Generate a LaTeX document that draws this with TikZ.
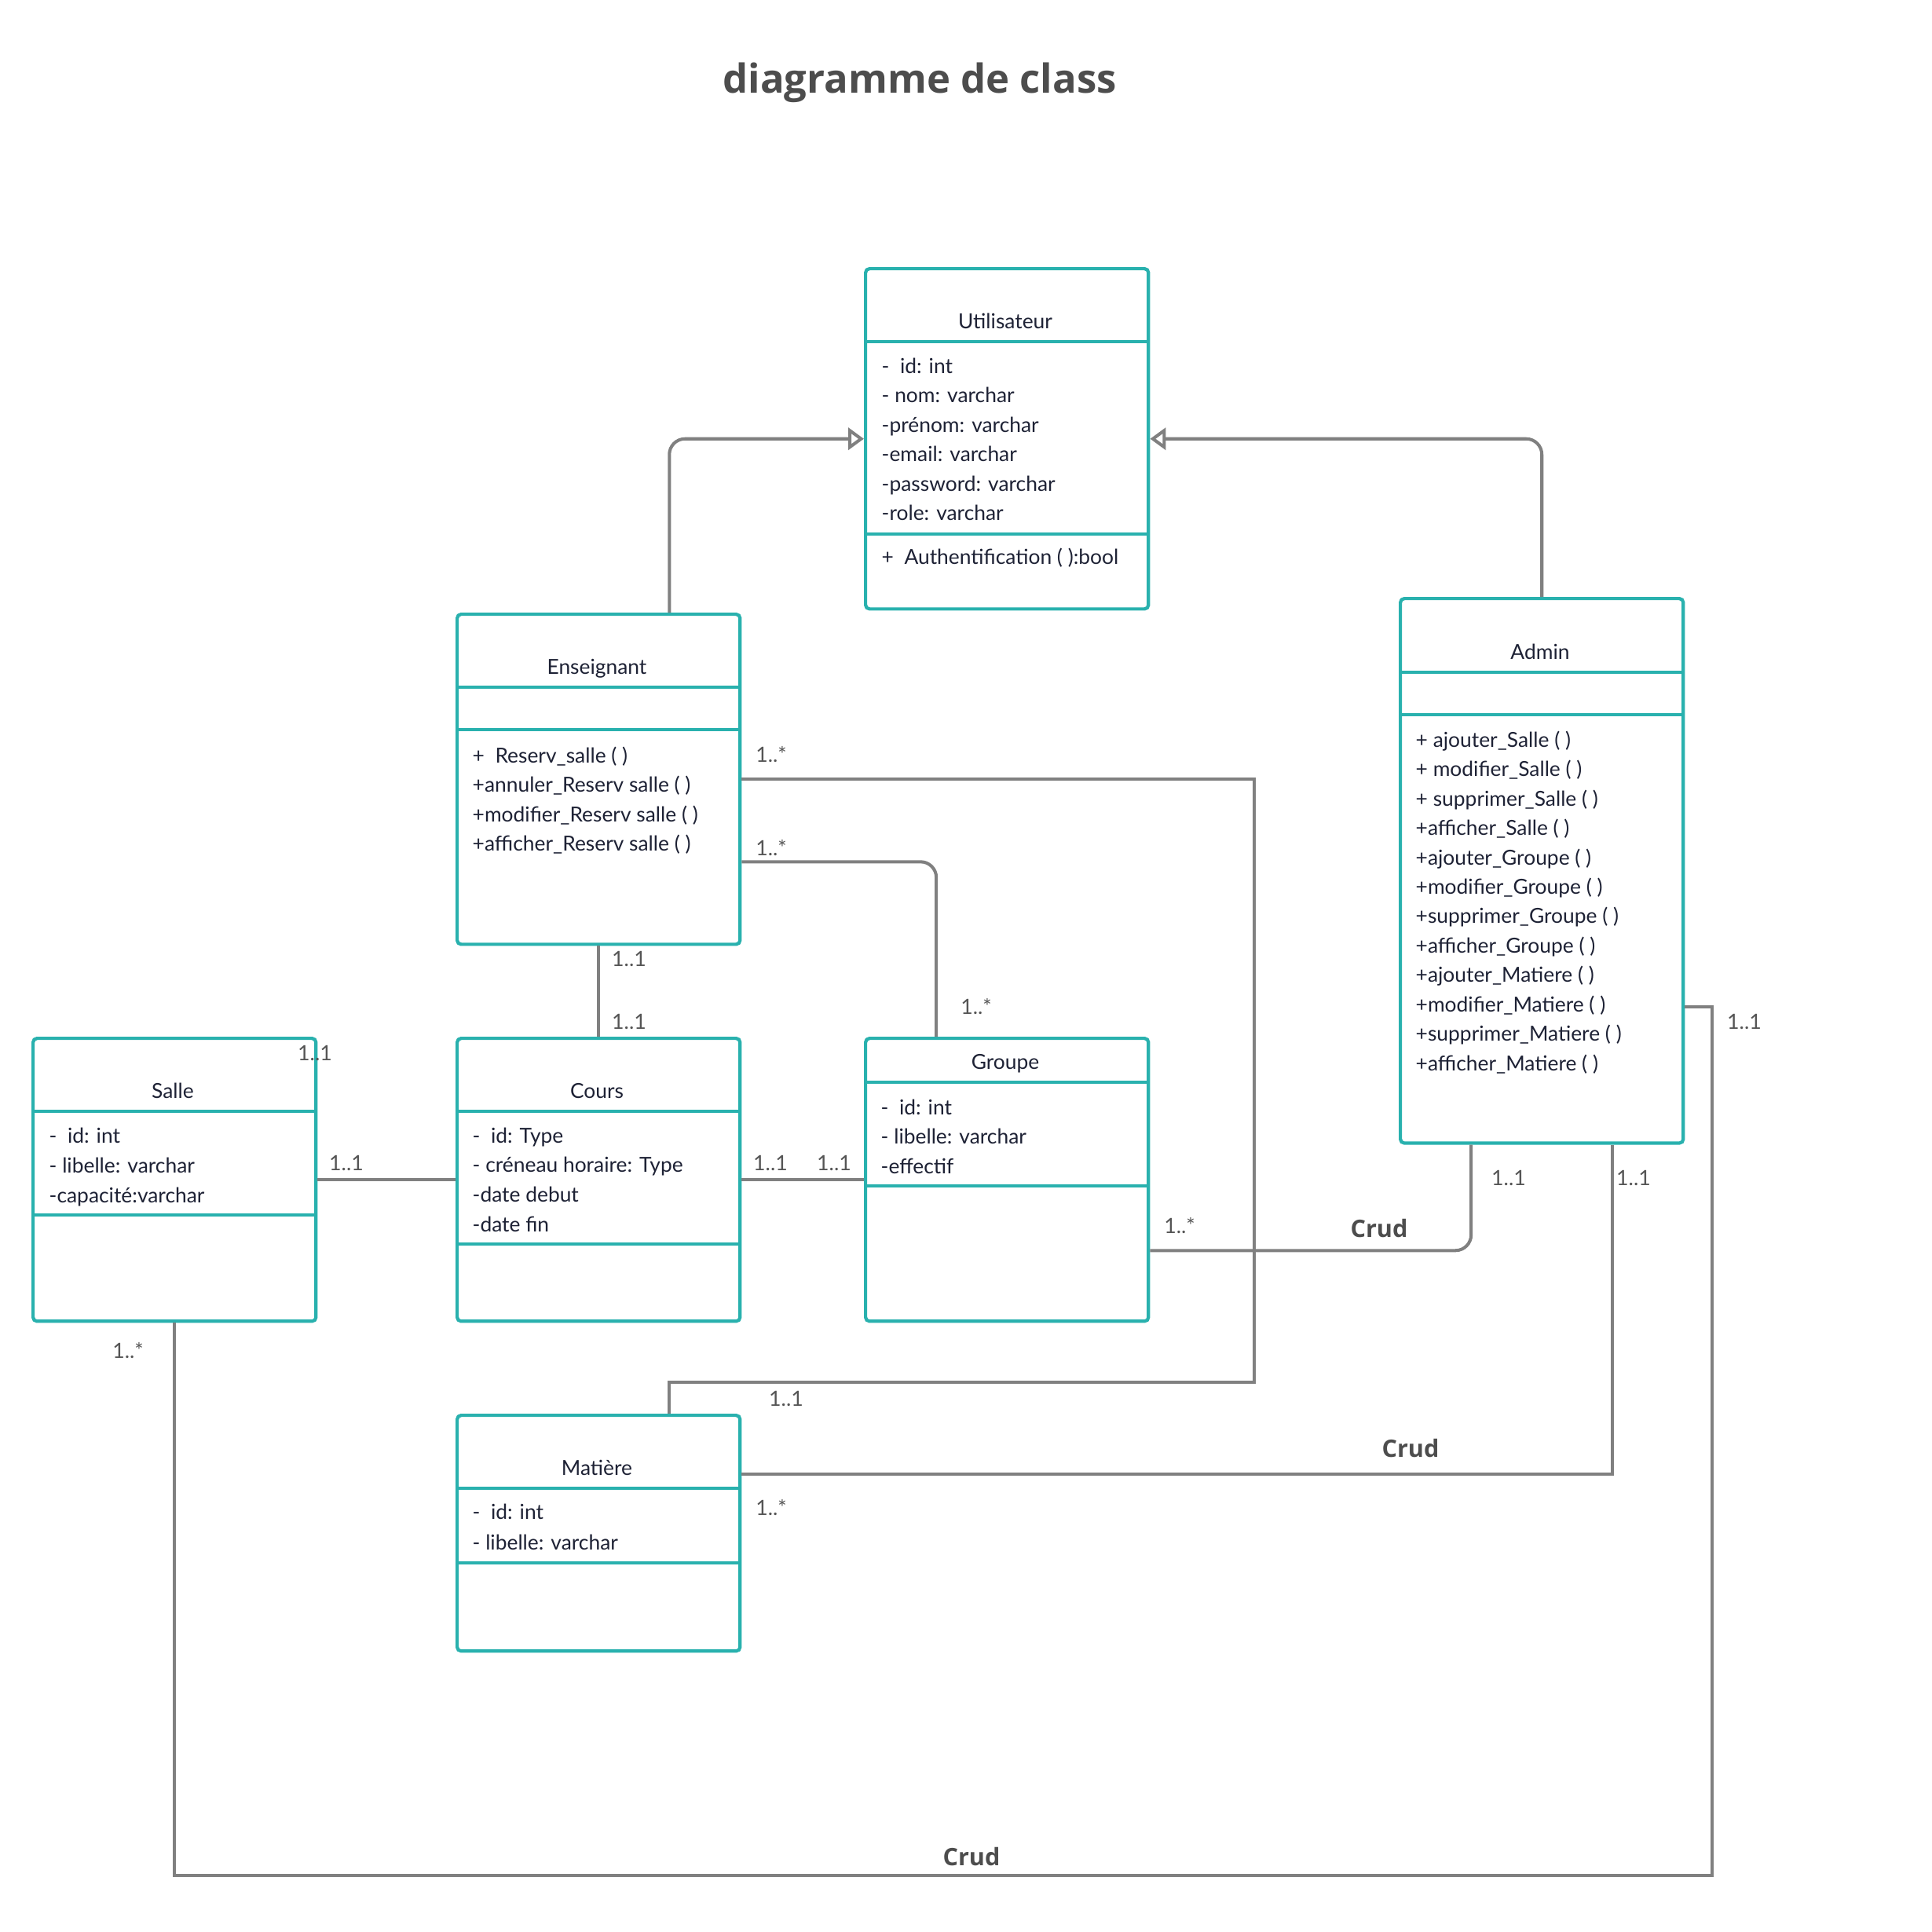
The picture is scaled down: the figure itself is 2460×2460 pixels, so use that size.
\documentclass[tikz,border=0pt]{standalone}
\usepackage{fontspec}
\setmainfont{Lato}
\newfontfamily\titlefont{Open Sans}
\usetikzlibrary{arrows.meta}
\definecolor{tealb}{HTML}{29B1AE}
\definecolor{connc}{HTML}{808080}
\definecolor{labc}{HTML}{555555}
\definecolor{ink}{HTML}{1E2235}
\definecolor{titc}{HTML}{4D4D4D}
\begin{document}
\begin{tikzpicture}[x=0.01cm,y=-0.01cm,
  cls/.style={draw=tealb, line width=1.2pt, fill=white, rounded corners=0.05cm, inner sep=0, minimum width=3.6cm},
  div/.style={draw=tealb, line width=1.2pt},
  conn/.style={draw=connc, line width=1.15pt},
  gen/.style={conn, rounded corners=0.2cm, -{Triangle[open, length=0.2cm, width=0.28cm, fill=white]}},
  txt/.style={anchor=west, inner sep=0, text height=0.64em, text depth=0pt, font=\fontsize{7.5}{9.5}\selectfont, text=ink},
  nm/.style={txt, anchor=center},
  mult/.style={anchor=center, inner sep=0, text height=0.64em, text depth=0pt, font=\fontsize{7.6}{9.5}\selectfont, text=labc},
  crud/.style={anchor=center, inner sep=0, text height=0.72em, text depth=0pt, font=\titlefont\bfseries\fontsize{8.7}{11}\selectfont, text=titc}
]
\useasboundingbox (0,0) rectangle (2460,2460);
\fill[white] (0,0) rectangle (2460,2460);

% title
\node[anchor=base, inner sep=0, font=\titlefont\bfseries\fontsize{14.45}{18}\selectfont, text=titc] (title) at (1171,118) {diagramme de class};

% class boxes
\node[cls, minimum height=4.33cm, anchor=north west] (util) at (1100,340) {};
\node[cls, minimum height=4.2cm, anchor=north west] (ens) at (580,780) {};
\node[cls, minimum height=6.93cm, anchor=north west] (admin) at (1781,760) {};
\node[cls, minimum height=3.6cm, anchor=north west] (salle) at (40,1320) {};
\node[cls, minimum height=3.6cm, anchor=north west] (cours) at (580,1320) {};
\node[cls, minimum height=3.6cm, anchor=north west] (grp) at (1100,1320) {};
\node[cls, minimum height=3.0cm, anchor=north west] (mat) at (580,1800) {};

% dividers
\draw[div] (util.west |- 0,435) -- (util.east |- 0,435);
\draw[div] (util.west |- 0,680) -- (util.east |- 0,680);
\draw[div] (ens.west |- 0,875) -- (ens.east |- 0,875);
\draw[div] (ens.west |- 0,929) -- (ens.east |- 0,929);
\draw[div] (admin.west |- 0,856) -- (admin.east |- 0,856);
\draw[div] (admin.west |- 0,910) -- (admin.east |- 0,910);
\draw[div] (salle.west |- 0,1415) -- (salle.east |- 0,1415);
\draw[div] (salle.west |- 0,1547) -- (salle.east |- 0,1547);
\draw[div] (cours.west |- 0,1415) -- (cours.east |- 0,1415);
\draw[div] (cours.west |- 0,1584) -- (cours.east |- 0,1584);
\draw[div] (grp.west |- 0,1378) -- (grp.east |- 0,1378);
\draw[div] (grp.west |- 0,1510) -- (grp.east |- 0,1510);
\draw[div] (mat.west |- 0,1895) -- (mat.east |- 0,1895);
\draw[div] (mat.west |- 0,1990) -- (mat.east |- 0,1990);

% class names
\node[nm] (utilname) at (1280,407) {Utilisateur};
\node[nm] (ensname) at (760,847) {Enseignant};
\node[nm] (adminname) at (1961,828) {Admin};
\node[nm] (sallename) at (220,1387) {Salle};
\node[nm] (coursname) at (760,1387) {Cours};
\node[nm] (grpname) at (1280,1350) {Groupe};
\node[nm] (matname) at (760,1867) {Matière};

% Utilisateur
\foreach \t [count=\i] in {{-\ \ id: int},{- nom: varchar},{-prénom: varchar},{-email: varchar},{-password: varchar},{-role: varchar}}
  \node[txt] (ua\i) at (1122,{464+37.5*(\i-1)}) {\t};
\node[txt] (um1) at (1122,707) {+\ \ Authentification ( ):bool};

% Enseignant
\foreach \t [count=\i] in {{+\ \ Reserv\_salle ( )},{+annuler\_Reserv salle ( )},{+modifier\_Reserv salle ( )},{+afficher\_Reserv salle ( )}}
  \node[txt] (em\i) at (601,{960+37.5*(\i-1)}) {\t};

% Admin
\foreach \t [count=\i] in {{+ ajouter\_Salle ( )},{+ modifier\_Salle ( )},{+ supprimer\_Salle ( )},{+afficher\_Salle ( )},{+ajouter\_Groupe ( )},{+modifier\_Groupe ( )},{+supprimer\_Groupe ( )},{+afficher\_Groupe ( )},{+ajouter\_Matiere ( )},{+modifier\_Matiere ( )},{+supprimer\_Matiere ( )},{+afficher\_Matiere ( )}}
  \node[txt] (am\i) at (1802,{940+37.45*(\i-1)}) {\t};

% Salle
\foreach \t [count=\i] in {{-\ \ id: int},{- libelle: varchar},{-capacité:varchar}}
  \node[txt] (sa\i) at (62,{1444+38*(\i-1)}) {\t};

% Cours
\foreach \t [count=\i] in {{-\ \ id: Type},{- créneau horaire: Type},{-date debut},{-date fin}}
  \node[txt] (ca\i) at (601,{1444+37.7*(\i-1)}) {\t};

% Groupe
\foreach \t [count=\i] in {{-\ \ id: int},{- libelle: varchar},{-effectif}}
  \node[txt] (ga\i) at (1121,{1408+37.5*(\i-1)}) {\t};

% Matiere
\foreach \t [count=\i] in {{-\ \ id: int},{- libelle: varchar}}
  \node[txt] (ma\i) at (601,{1923+39*(\i-1)}) {\t};

% connectors
\draw[gen] ([xshift=0.9cm]ens.north) |- (util.west);
\draw[gen] (admin.north) |- (util.east);
\draw[conn] (ens.east) -| (1597,1760) -| ([xshift=0.9cm]mat.north);
\draw[conn, rounded corners=0.2cm] ([yshift=-1.05cm]ens.east) -| ([xshift=-0.9cm]grp.north);
\draw[conn] (ens.south) -- (cours.north);
\draw[conn] (salle.east) -- (cours.west);
\draw[conn] (cours.east) -- (grp.west);
\draw[conn, rounded corners=0.2cm] ([yshift=-0.9cm]grp.east) -| ([xshift=-0.9cm]admin.south);
\draw[conn] ([yshift=0.75cm]mat.east) -| ([xshift=0.9cm]admin.south);
\draw[conn] (salle.south) |- (2180,2388) |- ([yshift=-1.735cm]admin.east);

% multiplicities
\node[mult] (m1) at (982,959) {1..*};
\node[mult] (m2) at (982,1078) {1..*};
\node[mult] (m3) at (801,1219) {1..1};
\node[mult] (m4) at (801,1299) {1..1};
\node[mult] (m5) at (1243,1280) {1..*};
\node[mult] (m6) at (401,1339) {1..1};
\node[mult] (m7) at (441,1479) {1..1};
\node[mult] (m8) at (981,1479) {1..1};
\node[mult] (m9) at (1062,1479) {1..1};
\node[mult] (m10) at (163,1718) {1..*};
\node[mult] (m11) at (1502,1559) {1..*};
\node[mult] (m12) at (1921,1498) {1..1};
\node[mult] (m13) at (2080,1498) {1..1};
\node[mult] (m14) at (1001,1779) {1..1};
\node[mult] (m15) at (982,1918) {1..*};
\node[mult] (m16) at (2221,1299) {1..1};

% Crud labels
\node[crud] (crud1) at (1756,1563) {Crud};
\node[crud] (crud2) at (1796,1843) {Crud};
\node[crud] (crud3) at (1237,2363) {Crud};
\end{tikzpicture}
\end{document}
